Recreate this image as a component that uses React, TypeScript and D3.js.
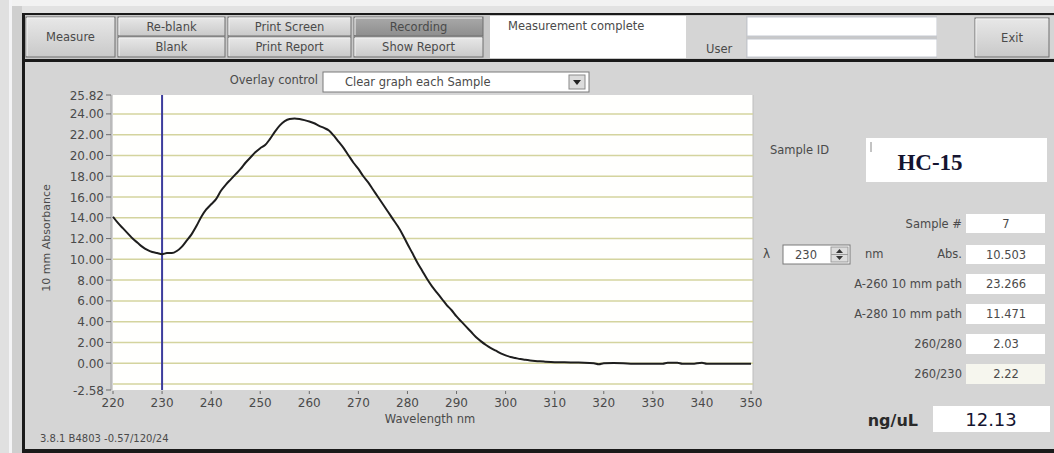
import React from "react";
import * as d3 from "d3";

const wavelengths = [220,221,222,223,224,225,226,227,228,229,230,231,232,233,234,235,236,237,238,239,240,241,242,243,244,245,246,247,248,249,250,251,252,253,254,255,256,257,258,259,260,261,262,263,264,265,266,267,268,269,270,271,272,273,274,275,276,277,278,279,280,281,282,283,284,285,286,287,288,289,290,291,292,293,294,295,296,297,298,299,300,301,302,303,304,305,306,307,308,310,312,314,316,318,319,320,322,324,326,328,330,332,333,335,336,338,340,341,344,347,350];
const absorbance = [14.1,13.5,13.0,12.5,12.0,11.6,11.2,10.9,10.7,10.6,10.5,10.6,10.6,10.8,11.2,11.8,12.4,13.2,14.1,14.8,15.3,15.8,16.6,17.2,17.7,18.2,18.7,19.3,19.8,20.3,20.7,21.0,21.6,22.3,22.9,23.3,23.5,23.55,23.5,23.4,23.27,23.1,22.85,22.65,22.4,21.9,21.3,20.7,20.0,19.3,18.7,18.0,17.4,16.7,16.0,15.3,14.6,13.9,13.2,12.4,11.47,10.6,9.7,8.9,8.1,7.4,6.8,6.2,5.6,5.1,4.5,4.0,3.5,3.0,2.5,2.1,1.75,1.45,1.2,0.95,0.75,0.6,0.5,0.4,0.33,0.27,0.22,0.18,0.15,0.1,0.08,0.06,0.05,0.0,-0.1,0.0,0.02,0.0,-0.05,-0.05,-0.05,-0.05,0.05,0.05,-0.05,-0.05,0.05,-0.05,-0.05,-0.05,-0.05];

const yTicks = [25.82, 24, 22, 20, 18, 16, 14, 12, 10, 8, 6, 4, 2, 0, -2.58];
const gridValues = [24, 22, 20, 18, 16, 14, 12, 10, 8, 6, 4, 2, 0, -2];
const xTicks = [220, 230, 240, 250, 260, 270, 280, 290, 300, 310, 320, 330, 340, 350];
const cursorWavelength = 230;

const topButtons = ["Re-blank", "Print Screen", "Recording"];
const bottomButtons = ["Blank", "Print Report", "Show Report"];

const resultLabels = ["A-260 10 mm path", "A-280 10 mm path", "260/280", "260/230"];
const resultValues = ["23.266", "11.471", "2.03", "2.22"];

const FONT = "'DejaVu Sans', Verdana, sans-serif";
const TXT = "#4a4a4a";

function Button({ x, y, w, h, label, dark }: any) {
  return (
    <g>
      <rect x={x} y={y} width={w} height={h} fill={dark ? "url(#btnDark)" : "url(#btn)"} stroke="#6e6e6e" strokeWidth={1} />
      <line x1={x + 1} y1={y + 1} x2={x + w - 1} y2={y + 1} stroke="#f4f4f4" />
      <line x1={x + 1} y1={y + 1} x2={x + 1} y2={y + h - 1} stroke="#f4f4f4" />
      <text x={x + w / 2} y={y + h / 2 + 4} textAnchor="middle" fontSize={11.5} fontFamily={FONT} fill={TXT}>{label}</text>
    </g>
  );
}

export default function App() {
  const x = d3.scaleLinear().domain([220, 350]).range([113, 751]);
  const y = d3.scaleLinear().domain([-2.58, 25.82]).range([390, 95]);
  const line = d3.line<number>().x((_, i) => x(wavelengths[i])).y((d) => y(d)).curve(d3.curveMonotoneX);

  const btnXs = [118, 228, 354];
  const btnWs = [107, 123, 129];

  return (
    <svg width={1054} height={453} style={{ position: "fixed", left: 0, top: 0 }} fontFamily={FONT}>
      <defs>
        <linearGradient id="btn" x1="0" y1="0" x2="0" y2="1">
          <stop offset="0" stopColor="#e8e8e8" />
          <stop offset="1" stopColor="#c9c9c9" />
        </linearGradient>
        <linearGradient id="btnDark" x1="0" y1="0" x2="0" y2="1">
          <stop offset="0" stopColor="#a9a9a9" />
          <stop offset="1" stopColor="#8e8e8e" />
        </linearGradient>
      </defs>
      {/* window background */}
      <rect x={0} y={0} width={1054} height={453} fill="#d5d5d5" />
      <rect x={0} y={0} width={1054} height={6} fill="#f2f2f2" />
      <rect x={0} y={6} width={1054} height={7} fill="#e2e2e2" />
      <rect x={0} y={0} width={9} height={453} fill="#e0e0e0" />
      <rect x={9} y={0} width={3} height={453} fill="#f4f4f6" />
      <rect x={12} y={6} width={10} height={447} fill="#cfcfcf" />
      {/* black frames */}
      <rect x={22} y={13} width={1034} height={2} fill="#1a1a1a" />
      <rect x={22} y={59} width={1034} height={3} fill="#1a1a1a" />
      <rect x={22} y={449} width={1034} height={4} fill="#1a1a1a" />
      <rect x={22} y={13} width={3} height={440} fill="#1a1a1a" />
      <rect x={25} y={15} width={1029} height={44} fill="#c8c8c8" />

      {/* toolbar */}
      <Button x={26} y={17} w={89} h={40} label="Measure" />
      {topButtons.map((b, i) => (
        <Button key={b} x={btnXs[i]} y={17} w={btnWs[i]} h={19} label={b} dark={b === "Recording"} />
      ))}
      {bottomButtons.map((b, i) => (
        <Button key={b} x={btnXs[i]} y={37} w={btnWs[i]} h={20} label={b} />
      ))}
      <rect x={490} y={16} width={196} height={42} fill="#ffffff" />
      <text x={508} y={30} fontSize={11.5} fill={TXT}>Measurement complete</text>
      <rect x={686} y={16} width={60} height={42} fill="#d5d5d5" />
      <text x={706} y={53} fontSize={11.5} fill={TXT}>User</text>
      <rect x={747} y={17} width={190} height={19} fill="#ffffff" stroke="#c4c8d0" />
      <rect x={747} y={39} width={190} height={18} fill="#ffffff" stroke="#c4c8d0" />
      <rect x={937} y={16} width={117} height={42} fill="#d5d5d5" />
      <Button x={975} y={18} w={74} h={39} label="Exit" />

      {/* overlay control */}
      <text x={318} y={84} textAnchor="end" fontSize={11.5} fill={TXT}>Overlay control</text>
      <rect x={323} y={72} width={266} height={20} fill="#ffffff" stroke="#7a7a7a" />
      <text x={345} y={86} fontSize={11.5} fill={TXT}>Clear graph each Sample</text>
      <rect x={569} y={75} width={16} height={14} fill="#dcdcdc" stroke="#8a8a8a" />
      <path d="M573,80 L581,80 L577,85 Z" fill="#222" />

      {/* plot area */}
      <rect x={x(220)} y={y(25.82)} width={x(350) - x(220) + 2} height={y(-2.58) - y(25.82)} fill="#fffffd" />
      <line x1={x(350) + 2} y1={y(25.82)} x2={x(350) + 2} y2={y(-2.58)} stroke="#bdbdbd" />
      <line x1={x(220) - 2} y1={y(25.82)} x2={x(220) - 2} y2={y(-2.58)} stroke="#a0a0a0" />
      {gridValues.map((g) => (
        <line key={g} x1={x(220)} x2={x(350) + 2} y1={y(g)} y2={y(g)} stroke="#d4d49e" strokeWidth={1.5} />
      ))}
      {yTicks.map((t) => (
        <g key={t}>
          <line x1={x(220) - 7} x2={x(220) - 2} y1={y(t)} y2={y(t)} stroke="#6a6a6a" />
          <text x={x(220) - 9} y={y(t) + 4.5} textAnchor="end" fontSize={12} fill={TXT}>{t.toFixed(2)}</text>
        </g>
      ))}
      {xTicks.map((t) => (
        <g key={t}>
          <line x1={x(t)} x2={x(t)} y1={y(-2.58) + 1} y2={y(-2.58) + 4} stroke="#6a6a6a" />
          <text x={x(t)} y={y(-2.58) + 17} textAnchor="middle" fontSize={12} fill={TXT}>{t}</text>
        </g>
      ))}
      <text x={430} y={423} textAnchor="middle" fontSize={11.5} fill={TXT}>Wavelength nm</text>
      <text transform={`translate(50,238) rotate(-90)`} textAnchor="middle" fontSize={11} fill={TXT}>10 mm Absorbance</text>
      <text x={40} y={442} fontSize={10} fill={TXT}>3.8.1 B4803 -0.57/120/24</text>

      <line x1={x(cursorWavelength)} x2={x(cursorWavelength)} y1={y(25.82)} y2={y(-2.58)} stroke="#3c3c9c" strokeWidth={2} />
      <path d={line(absorbance) || ""} fill="none" stroke="#1e1e1e" strokeWidth={2} strokeLinejoin="round" />

      {/* right panel */}
      <text x={770} y={154} fontSize={11.5} fill={TXT}>Sample ID</text>
      <rect x={866} y={138} width={181} height={44} fill="#ffffff" />
      <line x1={871} y1={142} x2={871} y2={152} stroke="#888" />
      <text x={930} y={170} textAnchor="middle" fontSize={23} fontWeight="bold" fontFamily="'Liberation Serif', 'Times New Roman', serif" fill="#141430">HC-15</text>

      <text x={962} y={228} textAnchor="end" fontSize={11.5} fill={TXT}>Sample #</text>
      <rect x={966} y={214} width={79} height={19} fill="#ffffff" />
      <text x={1006} y={228} textAnchor="middle" fontSize={11.5} fill={TXT}>7</text>

      <text x={763} y={258} fontSize={12} fill={TXT}>λ</text>
      <rect x={783} y={245} width={67} height={19} fill="#ffffff" stroke="#7a7a7a" />
      <text x={795} y={259} fontSize={11.5} fill={TXT}>230</text>
      <rect x={831} y={247} width={17} height={15} fill="#dcdcdc" stroke="#9a9a9a" />
      <line x1={831} y1={254.5} x2={848} y2={254.5} stroke="#9a9a9a" />
      <path d="M836,253 L843,253 L839.5,249 Z M836,256 L843,256 L839.5,260 Z" fill="#333" />
      <text x={865} y={258} fontSize={11.5} fill={TXT}>nm</text>
      <text x={962} y={258} textAnchor="end" fontSize={11.5} fill={TXT}>Abs.</text>
      <rect x={966} y={245} width={79} height={19} fill="#ffffff" />
      <text x={1006} y={259} textAnchor="middle" fontSize={11.5} fill={TXT}>10.503</text>

      {resultLabels.map((l, i) => (
        <g key={l}>
          <text x={962} y={288 + i * 30} textAnchor="end" fontSize={11.5} fill={TXT}>{l}</text>
          <rect x={966} y={274 + i * 30} width={79} height={20} fill={i === 3 ? "#f6f6ee" : "#ffffff"} />
          <text x={1006} y={288 + i * 30} textAnchor="middle" fontSize={11.5} fill={TXT}>{resultValues[i]}</text>
        </g>
      ))}

      <text x={918} y={426} textAnchor="end" fontSize={16} fontWeight="bold" fill="#2a2a2a">ng/uL</text>
      <rect x={933} y={406} width={117} height={26} fill="#ffffff" />
      <text x={991} y={426} textAnchor="middle" fontSize={18} fill="#141430">12.13</text>
    </svg>
  );
}
